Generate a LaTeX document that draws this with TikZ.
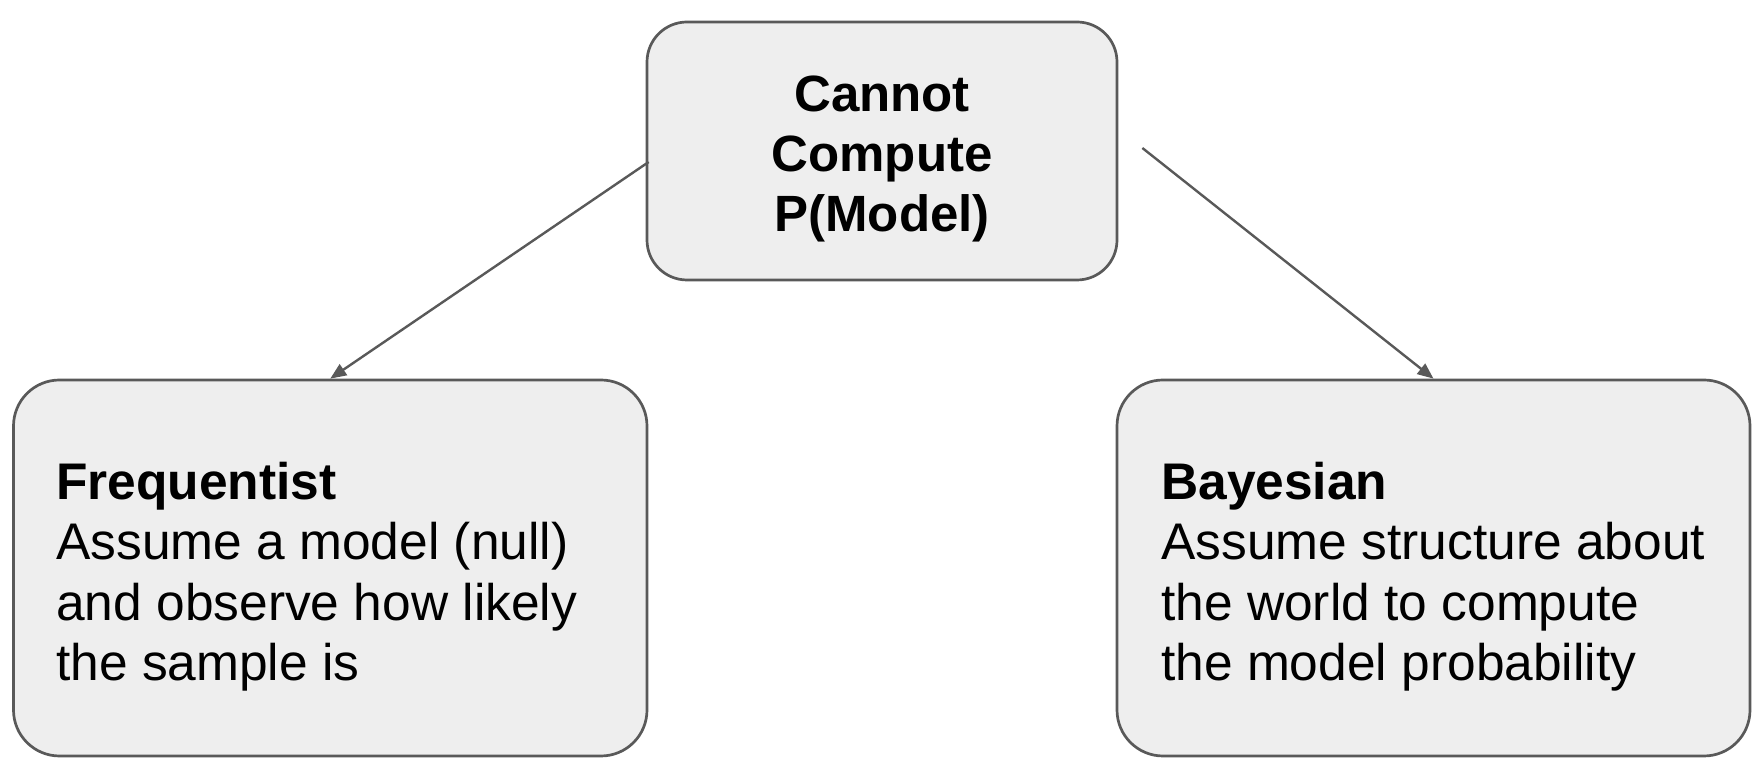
\documentclass[tikz,border=0pt]{standalone}
\usepackage{fontspec}
\setmainfont{Liberation Sans}
\usetikzlibrary{arrows.meta,calc}
\definecolor{edgegray}{HTML}{595959}
\definecolor{boxfill}{HTML}{EEEEEE}
\begin{document}
\begin{tikzpicture}[x=1pt,y=1pt,
  box/.style={draw=edgegray, line width=2.7pt, fill=boxfill, rounded corners=46pt, inner sep=0pt},
  lbl/.style={inner sep=0pt, font=\fontsize{51.5}{60.5}\selectfont},
  conn/.style={draw=edgegray, line width=2.4pt, -{Triangle[length=16pt,width=13pt]}}]
\useasboundingbox (0,0) rectangle (1764,770);
\node[box, rounded corners=40pt, minimum width=470pt, minimum height=258pt] (top) at (882,619) {};
\node[box, minimum width=633.5pt, minimum height=376pt] (freq) at (330.25,202) {};
\node[box, minimum width=633pt, minimum height=376pt] (bayes) at (1433.5,202) {};
\node[lbl, align=center, anchor=north, font=\fontsize{51}{60}\selectfont\bfseries] (toptext) at (882,694.5) {Cannot\\Compute\\P(Model)};
\node[lbl, align=left, anchor=north west] (freqtext) at (56,308.5) {\textbf{Frequentist}\\Assume a model (null)\\and observe how likely\\the sample is};
\node[lbl, align=left, anchor=north west] (bayestext) at (1161,308.5) {\textbf{Bayesian}\\Assume structure about\\the world to compute\\the model probability};
\coordinate (ls) at ($(top.west)+(3,-11)$);
\coordinate (rs) at ($(top.east)+(24,3)$);
\draw[conn] (ls) -- (freq.north);
\draw[conn] (rs) -- (bayes.north);
\end{tikzpicture}
\end{document}
